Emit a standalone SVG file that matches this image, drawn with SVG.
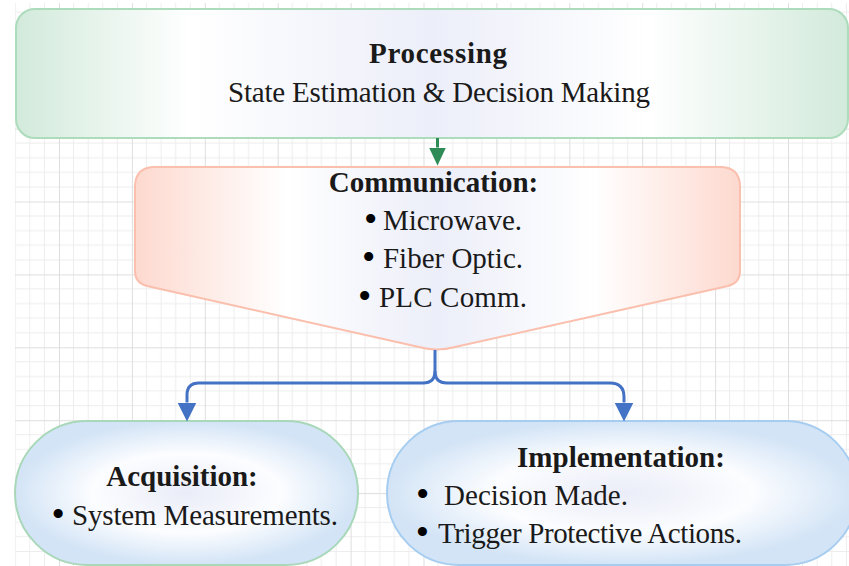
<svg xmlns="http://www.w3.org/2000/svg" width="849" height="566" viewBox="0 0 849 566">
<style>
.t{font-family:"Liberation Serif","Times New Roman",serif;font-size:29px;fill:#1a1a1a}
.b{font-weight:bold}
.m{text-anchor:middle}
.bul{font-size:38px;fill:#000}
.blue{fill:none;stroke:#4472c4;stroke-width:3}
.green{fill:none;stroke:#2e8b57;stroke-width:3}
</style>
<defs>
<pattern id="grid" x="59" y="55.7" width="72.9" height="72.9" patternUnits="userSpaceOnUse">
<path d="M14.58 0V72.9M29.16 0V72.9M43.74 0V72.9M58.32 0V72.9M0 14.58H72.9M0 29.16H72.9M0 43.74H72.9M0 58.32H72.9" stroke="#ededed" stroke-width="1" fill="none"/>
<path d="M0.5 0V72.9M0 0.5H72.9" stroke="#dedede" stroke-width="1" fill="none"/>
</pattern>
<linearGradient id="gProc" x1="0" y1="0" x2="1" y2="0">
<stop offset="0" stop-color="#d2eadb"/>
<stop offset="0.21" stop-color="#ffffff"/>
<stop offset="0.5" stop-color="#eceef9"/>
<stop offset="0.76" stop-color="#ffffff"/>
<stop offset="1" stop-color="#d2eadb"/>
</linearGradient>
<linearGradient id="gComm" x1="0" y1="0" x2="1" y2="0">
<stop offset="0" stop-color="#fdd9cf"/>
<stop offset="0.25" stop-color="#ffffff"/>
<stop offset="0.5" stop-color="#eceef9"/>
<stop offset="0.76" stop-color="#ffffff"/>
<stop offset="1" stop-color="#fdd9cf"/>
</linearGradient>
<radialGradient id="gStad" cx="0.5" cy="0.5" r="0.5">
<stop offset="0" stop-color="#eaecf8"/>
<stop offset="0.55" stop-color="#fcfdff"/>
<stop offset="1" stop-color="#d3e4f6"/>
</radialGradient>
<marker id="aBlue" markerUnits="userSpaceOnUse" markerWidth="20" markerHeight="20" refX="0" refY="9.5" orient="auto" viewBox="0 0 20 20">
<path d="M0 0L19 9.5L0 19Z" fill="#4472c4"/>
</marker>
<marker id="aGreen" markerUnits="userSpaceOnUse" markerWidth="19" markerHeight="18" refX="0" refY="8.5" orient="auto" viewBox="0 0 19 18">
<path d="M0 0L18 8.5L0 17Z" fill="#2e8b57"/>
</marker>
</defs>
<rect x="15" y="3" width="834" height="563" fill="url(#grid)"/>

<g id="processing">
<rect x="16" y="9" width="832" height="129" rx="19" fill="url(#gProc)" stroke="#acdcbb" stroke-width="2"/>
<text class="t b m" x="438" y="63" textLength="138">Processing</text>
<text class="t m" x="439" y="102" textLength="422">State Estimation &amp; Decision Making</text>
</g>

<g id="communication">
<path d="M155 167H720Q740 167 740 187V271Q740 283 728 286L455 347Q437 352 419 347L147 286Q135 283 135 271V187Q135 167 155 167Z" fill="url(#gComm)" stroke="#fbbfad" stroke-width="2"/>
<text class="t b m" x="433.5" y="192">Communication:</text>
<text class="t" y="230"><tspan class="bul" x="364" dy="2">•</tspan><tspan x="383" dy="-2" textLength="139">Microwave.</tspan></text>
<text class="t" y="268"><tspan class="bul" x="362" dy="2">•</tspan><tspan x="383" dy="-2" textLength="140">Fiber Optic.</tspan></text>
<text class="t" y="307"><tspan class="bul" x="358" dy="2">•</tspan><tspan x="379" dy="-2" textLength="148">PLC Comm.</tspan></text>
</g>

<g id="acquisition">
<rect x="15" y="421" width="343" height="144" rx="72" fill="url(#gStad)" stroke="#a8d8b9" stroke-width="2"/>
<text class="t b m" x="182" y="486">Acquisition:</text>
<text class="t" y="525"><tspan class="bul" x="51.5" dy="2">•</tspan><tspan x="72" dy="-2" textLength="266">System Measurements.</tspan></text>
</g>

<g id="implementation">
<rect x="387" y="421" width="470" height="144" rx="72" fill="url(#gStad)" stroke="#a6cdf0" stroke-width="2"/>
<text class="t b m" x="621" y="467">Implementation:</text>
<text class="t" y="505"><tspan class="bul" x="416" dy="2">•</tspan><tspan x="444" dy="-2" textLength="184">Decision Made.</tspan></text>
<text class="t" y="543"><tspan class="bul" x="415.7" dy="2">•</tspan><tspan x="438" dy="-2" textLength="304">Trigger Protective Actions.</tspan></text>
</g>

<g id="connectors">
<path class="green" d="M437.5 138V147.5" marker-end="url(#aGreen)"/>
<path class="blue" d="M435 350V371Q435 383 423 383H199Q187 383 187 395V402.5" marker-end="url(#aBlue)"/>
<path class="blue" d="M435 371Q435 383 447 383H610Q624 383 624 397V402.5" marker-end="url(#aBlue)"/>
</g>
</svg>
